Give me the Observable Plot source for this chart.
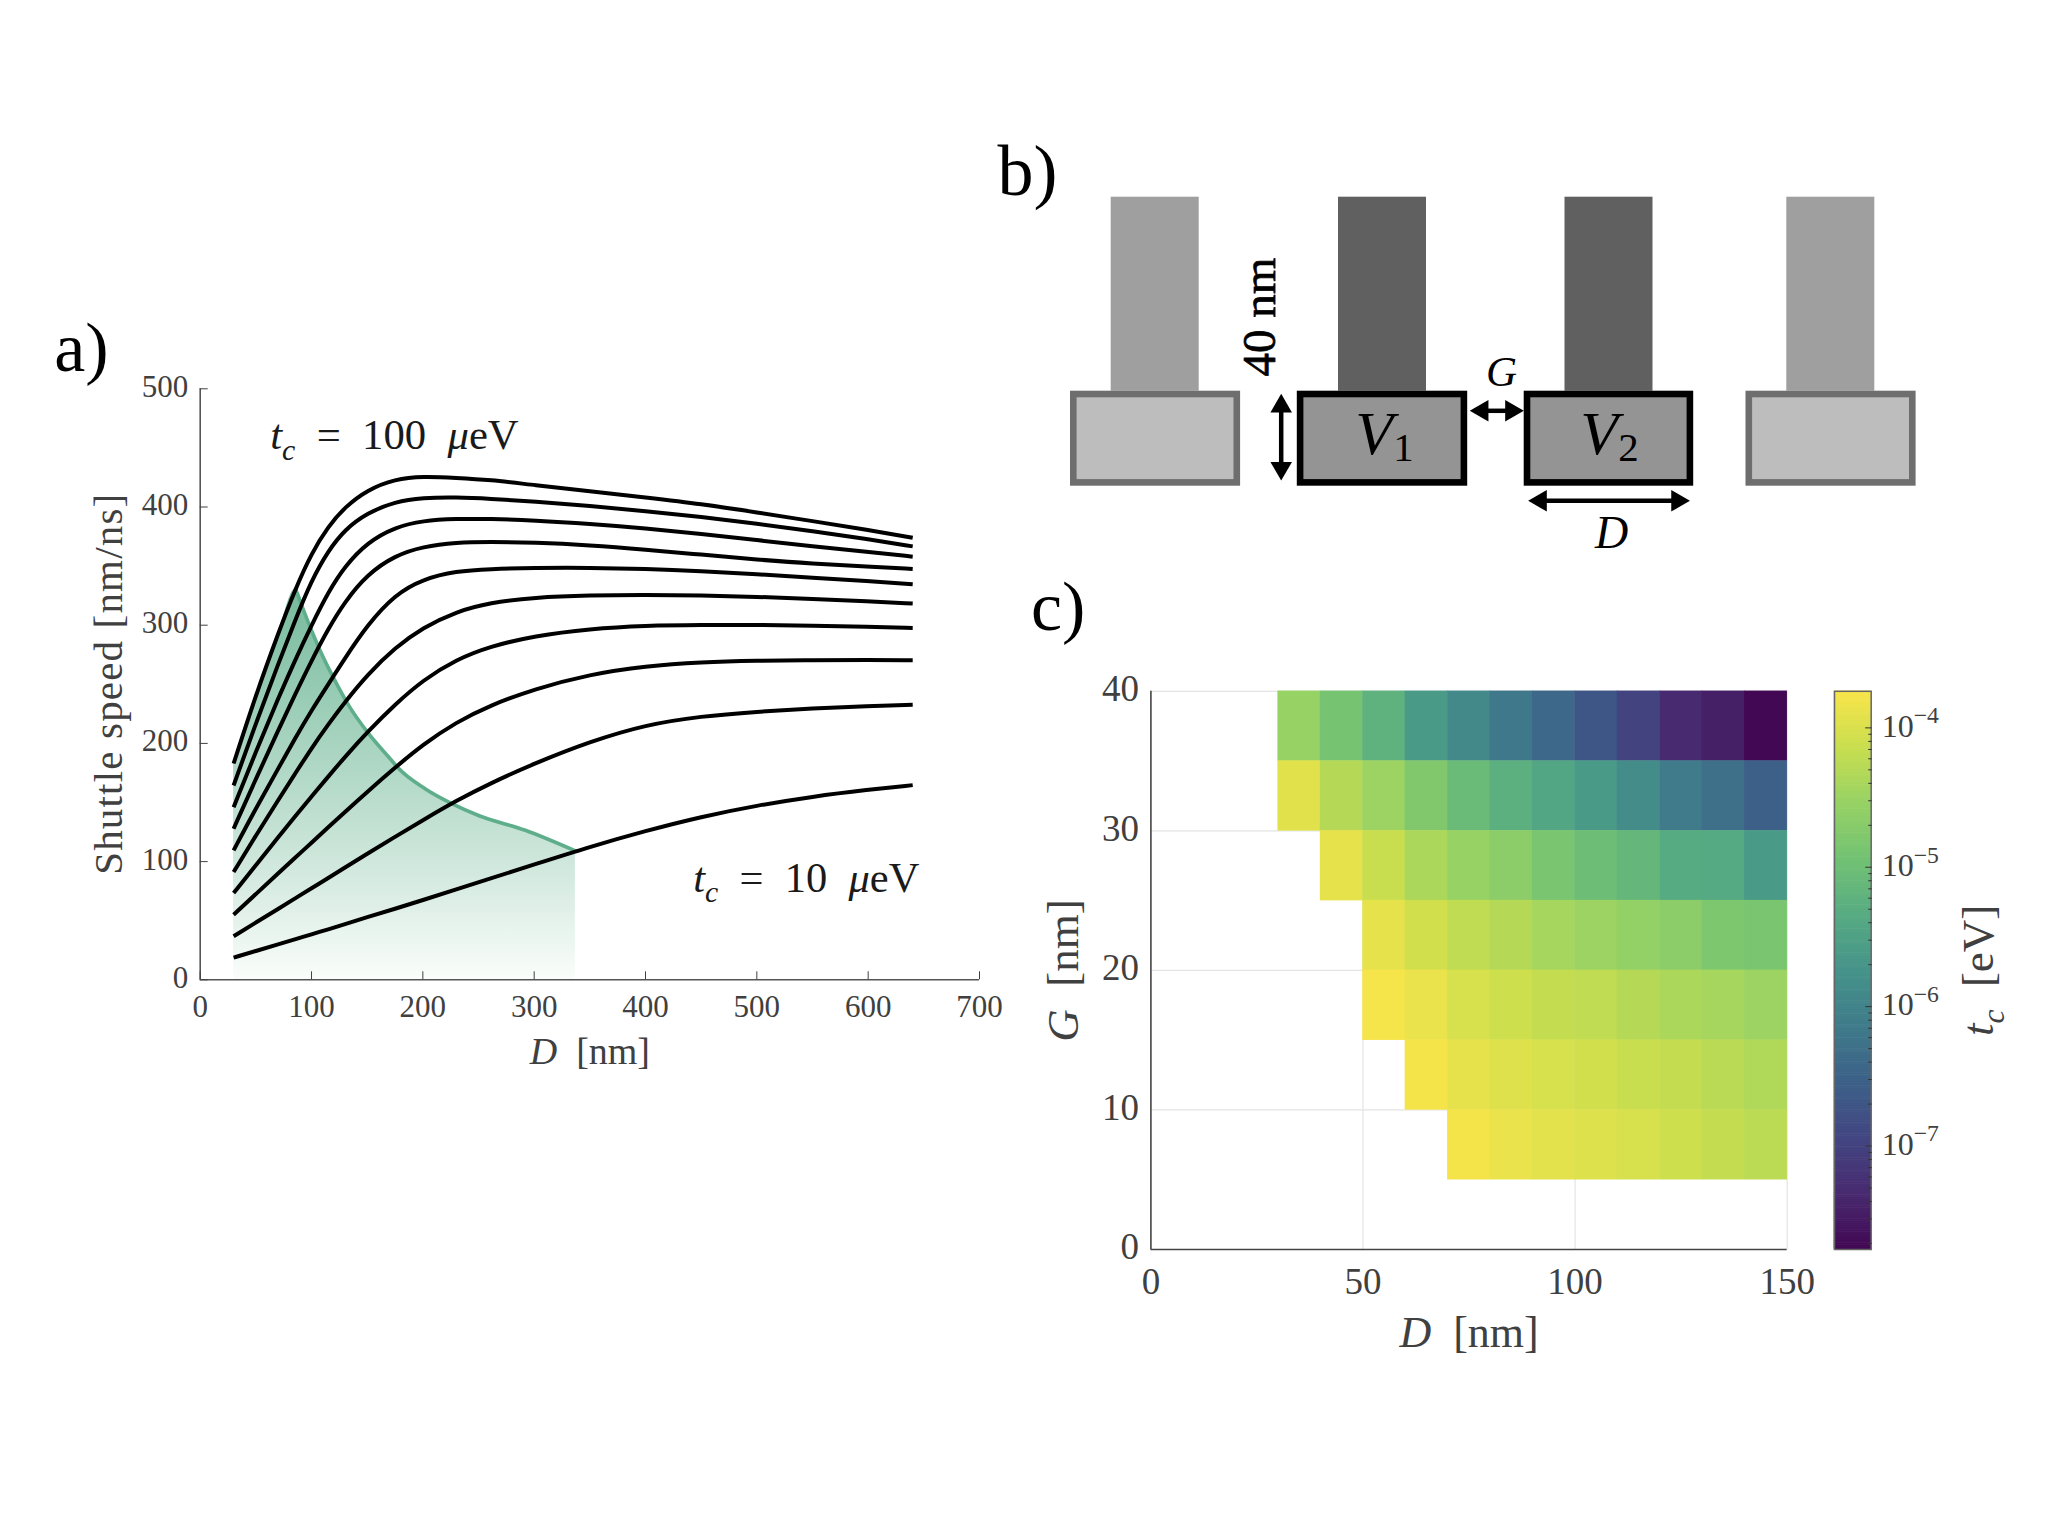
<!DOCTYPE html>
<html><head><meta charset="utf-8">
<script src="https://cdn.jsdelivr.net/npm/d3@7"></script>
<script src="https://cdn.jsdelivr.net/npm/@observablehq/plot@0.6"></script>
<style>
html,body{margin:0;padding:0;background:#fff}
#page{position:relative;width:2048px;height:1536px;overflow:hidden}
#page svg{position:absolute;max-width:none}
</style></head><body><div id="page"></div>
<script>
const FONT = '"Liberation Serif", serif';

/* ---------- panel a: shuttle speed vs D ---------- */
const D_GRID = [30,50,70,85,100,115,130,150,175,200,230,260,300,350,400,450,500,550,600,640];
const speed100 = [183,241,293,329.7,361,383.5,400,414.5,423.7,426,424.7,423,418.5,413.5,408,402.5,395.5,388,380.7,374];
const speed90  = [164.4,217,267,303.5,338,363,381,395,404.5,407.8,408.2,407,404.7,401,396.5,391.7,386,379.5,372.8,366.7];
const speed80  = [146,193,238,270,300,328,350,370,383,388.5,390,390,388.7,385.8,382,377.2,372,366.8,362,358];
const speed70  = [127.8,170,211,241,270,297,320,343,359,366.5,370,370.5,370,367.7,364,359.7,355.5,352,349.7,347.6];
const speed60  = [109.5,145,178.5,204,228,250,272,300,326,339,345.8,347.5,348.5,348.6,347.7,345.8,343.2,340.2,337.3,334.6];
const speed50  = [91.2,122,152,174,196,216,235,258,281,298,311.5,319,323.5,325.3,325.7,325.2,324,322.3,320.4,318.3];
const speed40  = [73.4,97,120.5,138,155,172,188.5,209.5,233,253.5,271,282,291,297,299.7,300.3,300.2,299.6,298.8,297.7];
const speed30  = [55.1,72.5,90,103,116,129,142,159,179.5,199,218,232,246,258.5,265.5,268.8,270,270.5,270.5,270.3];
const speed20  = [36.8,48.5,60,68.7,77.5,86,95,106.5,121,135,151.5,166,183,201.5,215.8,223,226.8,229.7,231.7,232.7];
const speed10  = [18.8,24.4,30,34.2,38.5,42.7,47,53,60,67.5,76.5,85.5,97.5,112.5,126,138,147.5,155,160.8,164.7];
const allSpeeds = [speed100,speed90,speed80,speed70,speed60,speed50,speed40,speed30,speed20,speed10];
const curves = allSpeeds.flatMap((s,k)=>s.map((v,i)=>({D:D_GRID[i],v,k})));

const limitD = [30,50,70,85.6,100,108,120,133.5,151.5,172,177,202,226,250,292,337];
const limitV = [183,241,293,330.7,295.5,278,255,232,208,185.5,180,161.6,149,139,126.5,109];
const limitTable = limitD.map((D,i)=>({D,v:limitV[i]}));
const limitEdge = limitTable.filter(d=>d.D>=85);

const ticksAx = [0,100,200,300,400,500,600,700];
const ticksAy = [0,100,200,300,400,500];

/* ---------- panel b: schematic (units of the sketch) ---------- */
const gateLeft  = [90,316.8,543.7,765.5];
const gateWidth = [170.1,170.4,169.5,170.1];
const gateActive= [false,true,true,false];
const postLeft  = [130.7,358,584.5,806.3];
const postWidth = 88;
const gateTop = 270.7, gateBottom = 365.7, postTop = 76.7;

/* ---------- panel c: t_c map, log10(t_c / eV), one list per G row ---------- */
const G_ROWS = [35,30,25,20,15,10,5];
const D_START = [30,30,40,50,50,60,70];
const logTc35 = [-4.54,-4.90,-5.22,-5.62,-5.90,-6.18,-6.42,-6.70,-6.98,-7.34,-7.46,-7.74];
const logTc30 = [-3.94,-4.30,-4.50,-4.78,-5.06,-5.26,-5.42,-5.62,-5.86,-6.14,-6.30,-6.54];
const logTc25 = [-3.90,-4.14,-4.38,-4.54,-4.66,-4.86,-5.02,-5.14,-5.34,-5.38,-5.62];
const logTc20 = [-3.90,-4.06,-4.22,-4.30,-4.42,-4.50,-4.58,-4.66,-4.82,-4.86];
const logTc15 = [-3.76,-3.86,-4.02,-4.10,-4.18,-4.22,-4.30,-4.38,-4.42,-4.50];
const logTc10 = [-3.78,-3.90,-3.96,-4.02,-4.06,-4.14,-4.18,-4.26,-4.34];
const logTc5  = [-3.78,-3.86,-3.92,-3.98,-4.02,-4.10,-4.18,-4.24];
const allLogTc = [logTc35,logTc30,logTc25,logTc20,logTc15,logTc10,logTc5];
const cells = allLogTc.flatMap((row,r)=>row.map((l,i)=>({
  D:D_START[r]+10*i, G:G_ROWS[r], tc:Math.pow(10,l)})));

const tcDomain = [1.81e-8,1.83e-4];
const cmapStops = ["#420853","#482a70","#424682","#3c6088","#3f7b8a","#45938a","#57ab82","#72c273","#97d264","#c9de4e","#f9e54a"];
const cmap = d3.piecewise(d3.interpolateRgb, cmapStops);
const colorScale = {type:"log", domain:tcDomain, interpolate:cmap};
const ticksCx = [0,50,100,150];
const ticksCy = [0,10,20,30,40];
const barMajor = [1e-7,1e-6,1e-5,1e-4];
const barMinor = [2e-8,3e-8,4e-8,5e-8,6e-8,7e-8,8e-8,9e-8,
  2e-7,3e-7,4e-7,5e-7,6e-7,7e-7,8e-7,9e-7,
  2e-6,3e-6,4e-6,5e-6,6e-6,7e-6,8e-6,9e-6,
  2e-5,3e-5,4e-5,5e-5,6e-5,7e-5,8e-5,9e-5];
const barSteps = d3.range(256).map(i=>{
  const la=Math.log10(tcDomain[0]), lb=Math.log10(tcDomain[1]);
  return {a:Math.pow(10,la+(lb-la)*i/256), b:Math.pow(10,la+(lb-la)*(i+1)/256), c:Math.pow(10,la+(lb-la)*(i+.5)/256)};
});

/* ---------- mathematical text ---------- */
const I={i:1}, SUB={i:1,s:"sub"}, SUBV={s:"subv"}, SUP={s:"sup"};
const RICH = {
  "D [nm]":[["D",I],["  [nm]"]],
  "G [nm]":[["G",I],["  [nm]"]],
  "tc [eV]":[["t",I],["c",SUB],["  [eV]"]],
  "tc = 100 ueV":[["t",I],["c",SUB],["  =  100  "],["μ",I],["eV"]],
  "tc = 10 ueV":[["t",I],["c",SUB],["  =  10  "],["μ",I],["eV"]],
  "V1":[["V",I],["1",SUBV]],
  "V2":[["V",I],["2",SUBV]],
  "G":[["G",I]],
  "D":[["D",I]],
  "1e-4":[["10"],["−4",SUP]],
  "1e-5":[["10"],["−5",SUP]],
  "1e-6":[["10"],["−6",SUP]],
  "1e-7":[["10"],["−7",SUP]]
};
const FIT = {"Shuttle speed [nm/ns]":381};
function rich(svg){
  const NS="http://www.w3.org/2000/svg";
  svg.querySelectorAll("text").forEach(t=>{
    const key=t.textContent, segs=RICH[key];
    if(FIT[key]) t.setAttribute("textLength",FIT[key]);
    if(!segs) return;
    t.textContent="";
    t.style.whiteSpace="pre";
    let back=0;
    segs.forEach(([str,o])=>{
      o=o||{};
      const s=document.createElementNS(NS,"tspan");
      s.textContent=str;
      if(o.i) s.setAttribute("font-style","italic");
      let dy=back; back=0;
      if(o.s==="sub"){ s.setAttribute("font-size","70%"); s.setAttribute("dy",((dy+0.24)/0.7)+"em"); back=-0.24; }
      else if(o.s==="subv"){ s.setAttribute("font-size","66%"); s.setAttribute("dy",(0.12/0.66)+"em"); }
      else if(o.s==="sup"){ s.setAttribute("font-size","74%"); s.setAttribute("dy",((dy-0.42)/0.74)+"em"); back=0.42; }
      else if(dy) s.setAttribute("dy",dy+"em");
      t.appendChild(s);
    });
  });
}
/* MATLAB sets its vertical-axis numbers a little above the tick */
function liftLabels(svg,px){
  svg.querySelectorAll('g[aria-label="y-axis tick label"]').forEach(g=>{
    g.setAttribute("transform",(g.getAttribute("transform")||"")+` translate(0,${-px})`);
  });
}
function place(svg,left,top,lift){
  svg.style.left=left+"px"; svg.style.top=top+"px";
  rich(svg);
  if(lift) liftLabels(svg,lift);
  document.getElementById("page").appendChild(svg);
}
const baseStyle = fs => ({background:"none",overflow:"visible",fontFamily:FONT,fontSize:fs+"px",color:"#404040"});

function gradientDef(){
  const NS="http://www.w3.org/2000/svg";
  const defs=document.createElementNS(NS,"defs");
  const g=document.createElementNS(NS,"linearGradient");
  g.setAttribute("id","limitFade"); g.setAttribute("x1","0"); g.setAttribute("x2","0"); g.setAttribute("y1","0"); g.setAttribute("y2","1");
  [[0,"#76ba9c"],[0.4,"#a8d4c0"],[0.7,"#cfe7dc"],[1,"#fafdfb"]].forEach(([o,c])=>{
    const s=document.createElementNS(NS,"stop"); s.setAttribute("offset",o); s.setAttribute("stop-color",c); g.appendChild(s);
  });
  defs.appendChild(g); return defs;
}

/* ---------- panel a ---------- */
place(Plot.plot({
  width:1020,height:800,marginLeft:199.7,marginRight:41,marginTop:88.3,marginBottom:120.7,
  style:baseStyle(31),
  x:{domain:[0,700]},y:{domain:[0,500]},
  marks:[
    gradientDef,
    Plot.areaY(limitTable,{x:"D",y:"v",fill:"url(#limitFade)",curve:"monotone-x"}),
    Plot.line(limitEdge,{x:"D",y:"v",stroke:"#5fae8b",strokeWidth:3.6,curve:"monotone-x"}),
    Plot.line(curves,{x:"D",y:"v",z:"k",stroke:"#000",strokeWidth:4,curve:"basis",strokeLinecap:"butt"}),
    Plot.ruleX([0],{stroke:"#555",strokeWidth:1.6}),
    Plot.ruleY([0],{stroke:"#555",strokeWidth:1.6}),
    Plot.axisX({ticks:ticksAx,tickSize:-8,tickPadding:23,label:null,fontSize:31,tickFormat:d=>String(d)}),
    Plot.axisY({ticks:ticksAy,tickSize:-8,tickPadding:20,label:null,fontSize:31,tickFormat:d=>String(d)}),
    Plot.text(["D [nm]"],{frameAnchor:"bottom",dy:84,lineAnchor:"bottom",fontSize:38,fill:"#404040"}),
    Plot.text(["Shuttle speed [nm/ns]"],{frameAnchor:"left",dx:-78,rotate:-90,lineAnchor:"bottom",fontSize:41,fill:"#404040",textAnchor:"middle"}),
    Plot.text(["tc = 100 ueV"],{frameAnchor:"top-left",dx:70,dy:60.5,lineAnchor:"bottom",fontSize:42.7,fill:"#1a1a1a"}),
    Plot.text(["tc = 10 ueV"],{frameAnchor:"top-left",dx:493,dy:503,lineAnchor:"bottom",fontSize:42.5,fill:"#1a1a1a"}),
    Plot.text(["a)"],{frameAnchor:"top-left",dx:-146,dy:-18,lineAnchor:"bottom",fontSize:70,fill:"#000"})
  ]
}),0,300,2);

/* ---------- panel b ---------- */
const gates = gateLeft.map((l,i)=>({x1:l,x2:l+gateWidth[i],y1:gateTop,y2:gateBottom,active:gateActive[i]}));
const posts = postLeft.map((l,i)=>({x1:l,x2:l+postWidth,y1:postTop,y2:gateTop,active:gateActive[i]}));
const shafts = [
  {x1:300.7,x2:300.7,y1:285.7,y2:347.6},
  {x1:501.7,x2:530.9,y1:290.3,y2:290.3},
  {x1:560.1,x2:697,y1:380.3,y2:380.3}
];
const heads = [
  {x:300.7,y:285.7,rot:0},{x:300.7,y:347.6,rot:180},
  {x:501.7,y:290.3,rot:-90},{x:530.9,y:290.3,rot:90},
  {x:560.1,y:380.3,rot:-90},{x:697,y:380.3,rot:90}
];
place(Plot.plot({
  width:1000,height:450,margin:0,
  style:baseStyle(44),
  x:{domain:[0,1000],axis:null},y:{domain:[0,450],range:[0,450],axis:null},
  marks:[
    Plot.rect(posts,{x1:"x1",x2:"x2",y1:"y1",y2:"y2",fill:d=>d.active?"#606060":"#9f9f9f"}),
    Plot.rect(gates,{x1:"x1",x2:"x2",y1:"y1",y2:"y2",inset:3.3,strokeWidth:6.6,
      stroke:d=>d.active?"#000":"#6e6e6e",fill:d=>d.active?"#949494":"#bdbdbd"}),
    Plot.link(shafts,{x1:"x1",x2:"x2",y1:"y1",y2:"y2",stroke:"#000",strokeWidth:4.5}),
    Plot.dot(heads,{x:"x",y:"y",symbol:"triangle",r:8,rotate:"rot",fill:"#000",stroke:"none"}),
    Plot.text(["V1"],{x:[404],y:[333],lineAnchor:"bottom",fontSize:62,fill:"#000"}),
    Plot.text(["V2"],{x:[629],y:[333],lineAnchor:"bottom",fontSize:62,fill:"#000"}),
    Plot.text(["G"],{x:[521],y:[265.5],lineAnchor:"bottom",fontSize:43,fill:"#000"}),
    Plot.text(["D"],{x:[631],y:[427],lineAnchor:"bottom",fontSize:46,fill:"#000"}),
    Plot.text(["40 nm"],{x:[294],y:[196.7],rotate:-90,lineAnchor:"bottom",fontSize:47,fill:"#000",stroke:"#000",strokeWidth:0.7}),
    Plot.text(["b)"],{x:[17],y:[74],lineAnchor:"bottom",textAnchor:"start",fontSize:72,fill:"#000"})
  ]
}),980,120);

/* ---------- panel c ---------- */
place(Plot.plot({
  width:780,height:800,marginLeft:130.4,marginRight:13.3,marginTop:120.8,marginBottom:121,
  style:baseStyle(37),
  x:{domain:[0,150]},y:{domain:[0,40]},
  color:colorScale,
  marks:[
    Plot.ruleX(ticksCx.slice(1),{stroke:"#e4e4e4",strokeWidth:1.2}),
    Plot.ruleY(ticksCy.slice(1),{stroke:"#e4e4e4",strokeWidth:1.2}),
    Plot.rect(cells,{x1:"D",x2:d=>d.D+10,y1:"G",y2:d=>d.G+5,fill:"tc",inset:-0.25}),
    Plot.ruleX([0],{stroke:"#444",strokeWidth:1.6}),
    Plot.ruleY([0],{stroke:"#444",strokeWidth:1.6}),
    Plot.axisX({ticks:ticksCx,tickSize:0,tickPadding:18,label:null,fontSize:37,tickFormat:d=>String(d)}),
    Plot.axisY({ticks:ticksCy,tickSize:0,tickPadding:12,label:null,fontSize:37,tickFormat:d=>String(d)}),
    Plot.text(["D [nm]"],{frameAnchor:"bottom",dy:97,lineAnchor:"bottom",fontSize:44,fill:"#404040"}),
    Plot.text(["G [nm]"],{frameAnchor:"left",dx:-73,rotate:-90,lineAnchor:"bottom",fontSize:45,fill:"#404040",textAnchor:"middle"}),
    Plot.text(["c)"],{frameAnchor:"top-left",dx:-120,dy:-61.8,lineAnchor:"bottom",fontSize:70,fill:"#000"})
  ]
}),1020,570,2);

/* colour bar */
place(Plot.plot({
  width:248,height:800,marginLeft:34,marginRight:177.3,marginTop:120.8,marginBottom:121,
  style:baseStyle(32),
  x:{axis:null,domain:[0,1]},
  y:{type:"log",domain:tcDomain},
  color:colorScale,
  marks:[
    Plot.rect(barSteps,{x1:0,x2:1,y1:"a",y2:"b",fill:"c",inset:-0.3}),
    Plot.frame({stroke:"#666",strokeWidth:1.5}),
    Plot.axisY({anchor:"right",ticks:barMinor,tickSize:-3.5,tickFormat:()=>"",label:null,stroke:"#333"}),
    Plot.axisY({anchor:"right",ticks:barMajor,tickSize:-6.5,tickPadding:17,label:null,fontSize:32,
      tickFormat:d=>"1e"+Math.round(Math.log10(d)),stroke:"#333"}),
    Plot.text(["tc [eV]"],{frameAnchor:"right",dx:122,rotate:-90,lineAnchor:"bottom",fontSize:45,fill:"#404040",textAnchor:"middle"})
  ]
}),1800,570,1.5);
</script></body></html>
